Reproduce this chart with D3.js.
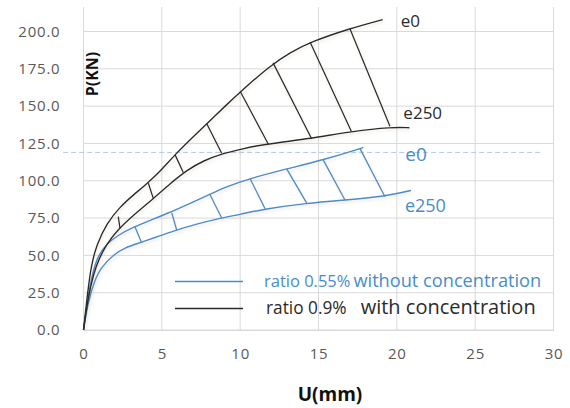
<!DOCTYPE html>
<html>
<head>
<meta charset="utf-8">
<script src="https://cdn.jsdelivr.net/npm/d3@7"></script>
<style>
  body { margin: 0; background: #fff; }
  svg { display: block; }
</style>
</head>
<body>
<div id="chart"></div>
<script>
// Data: [U (mm), P (kN)]
var black_e0 = [[0, 0], [0.25, 24], [0.5, 44], [0.84, 57], [1.48, 71.5], [2.33, 82.5], [3.18, 90.5], [4.14, 98.8], [5.0, 107.5], [5.84, 117.5], [7.0, 129.5], [8.0, 139.5], [9.14, 151], [10.0, 159.5], [11.9, 177], [13.2, 186], [14.5, 193], [17.0, 202], [19.1, 208]];
var black_e250 = [[0, 0], [0.3, 22], [0.65, 38], [1.0, 48], [1.45, 57], [2.12, 66.5], [3.18, 77], [4.46, 88], [5.52, 98], [6.59, 107], [7.65, 113.5], [8.93, 118.4], [10.0, 121], [11.3, 124], [14.6, 128.5], [17.1, 133], [19.7, 136], [20.8, 135.5]];
var blue_e0 = [[0, 0], [0.3, 23], [0.6, 39], [0.93, 50], [1.5, 58], [2.2, 63.5], [3.2, 69], [4.3, 73.7], [5.4, 78.3], [6.7, 84.4], [8.0, 90.5], [9.0, 95.5], [10.6, 101.5], [13.0, 108], [15.3, 114], [17.65, 121.5], [17.86, 122.4]];
var blue_e250 = [[0, 0], [0.3, 19], [0.7, 33], [1.14, 42.5], [1.99, 51], [2.6, 55], [3.6, 58.5], [4.7, 62.5], [5.8, 66.5], [7.2, 71], [8.8, 75], [10.0, 77.5], [11.5, 81], [14.25, 85], [16.7, 87.1], [19.1, 89.3], [20.9, 93.5]];

// hatch strokes between e0 and e250: [U top, P top, U bottom, P bottom]
var black_hatch = [[2.22, 76, 2.33, 68], [4.14, 98.3, 4.46, 88], [5.84, 117.5, 6.37, 105.5], [7.86, 138.4, 8.82, 118.4], [10.0, 160, 11.8, 124.5], [12.1, 179, 14.57, 128], [14.46, 193, 17.1, 133], [17.0, 202, 19.56, 136.5]];
var blue_hatch = [[3.29, 69, 3.71, 58.5], [5.63, 78.5, 5.95, 67], [8.07, 90.8, 8.82, 75], [10.63, 101.5, 11.59, 81.2], [12.97, 108, 14.25, 85], [15.3, 114, 16.69, 87.1], [17.65, 121.5, 19.24, 89.3]];

var refLevel = 119;          // dashed blue reference line
var refRange = [-1.3, 29.3];

var xTicks = [0, 5, 10, 15, 20, 25, 30];
var yTicks = [0, 25, 50, 75, 100, 125, 150, 175, 200];
var curveLabels = ["e0", "e250", "e0", "e250"];
var legendRatios = ["ratio 0.55%", "ratio 0.9%"];
var legendNotes = ["without concentration", "with concentration"];

var W = 570, H = 408;
var BLACK = "#2b2b2b", BLUE = "#4a8cc8";

var x = d3.scaleLinear().domain([0, 30]).range([83.5, 553.5]);
var y = d3.scaleLinear().domain([0, 200]).range([330, 31.5]);
var plotTop = 7;

var svg = d3.select("#chart").append("svg")
  .attr("width", W)
  .attr("height", H)
  .style("font-family", "'Open Sans', sans-serif");

// soft glow like the excel shadow
var defs = svg.append("defs");
var f = defs.append("filter").attr("id", "glow").attr("x", "-10%").attr("y", "-10%").attr("width", "120%").attr("height", "120%");
f.append("feDropShadow").attr("dx", 1).attr("dy", 2).attr("stdDeviation", 1.5)
  .attr("flood-color", "#c8b49a").attr("flood-opacity", 0.35);

// grid
svg.append("g")
  .selectAll("line.h")
  .data(yTicks)
  .enter().append("line")
  .attr("x1", x(0)).attr("x2", x(30))
  .attr("y1", function(d) { return y(d); })
  .attr("y2", function(d) { return y(d); })
  .attr("stroke", "#d9d9d9").attr("stroke-width", 1);

svg.append("g")
  .selectAll("line.v")
  .data(xTicks)
  .enter().append("line")
  .attr("x1", function(d) { return x(d); })
  .attr("x2", function(d) { return x(d); })
  .attr("y1", plotTop).attr("y2", y(0))
  .attr("stroke", "#d9d9d9").attr("stroke-width", 1);

// axes (labels only, excel style)
var xAxis = d3.axisBottom(x).tickValues(xTicks).tickSize(0).tickPadding(18).tickFormat(d3.format("d"));
var yAxis = d3.axisLeft(y).tickValues(yTicks).tickSize(0).tickPadding(23).tickFormat(d3.format(".1f"));

svg.append("g")
  .attr("transform", "translate(0," + y(0) + ")")
  .call(xAxis)
  .call(function(g) { g.select(".domain").attr("stroke", "#d9d9d9"); });

svg.append("g")
  .attr("transform", "translate(" + x(0) + ",0)")
  .call(yAxis)
  .call(function(g) { g.select(".domain").remove(); });

svg.selectAll(".tick text")
  .attr("fill", "#595959")
  .style("font-size", "15px")
  .style("font-family", "'Open Sans', sans-serif")
  .style("letter-spacing", "0.8px");

// dashed reference line
svg.append("line")
  .attr("x1", x(refRange[0])).attr("x2", x(refRange[1]))
  .attr("y1", y(refLevel)).attr("y2", y(refLevel))
  .attr("stroke", "#a9c9ea").attr("stroke-width", 1)
  .attr("stroke-dasharray", "5,3");

var line = d3.line()
  .x(function(d) { return x(d[0]); })
  .y(function(d) { return y(d[1]); })
  .curve(d3.curveBasis);

var series = [
  { data: blue_e250, color: BLUE, hatch: null },
  { data: blue_e0, color: BLUE, hatch: blue_hatch },
  { data: black_e250, color: BLACK, hatch: null },
  { data: black_e0, color: BLACK, hatch: black_hatch }
];

var curves = svg.append("g").attr("filter", "url(#glow)");

series.forEach(function(s) {
  curves.append("path")
    .datum(s.data)
    .attr("fill", "none")
    .attr("stroke", s.color)
    .attr("stroke-width", 1.4)
    .attr("d", line);
  if (s.hatch) {
    curves.selectAll(null)
      .data(s.hatch)
      .enter().append("line")
      .attr("x1", function(d) { return x(d[0]); })
      .attr("y1", function(d) { return y(d[1]); })
      .attr("x2", function(d) { return x(d[2]); })
      .attr("y2", function(d) { return y(d[3]); })
      .attr("stroke", s.color)
      .attr("stroke-width", 1.3);
  }
});

// end labels
var labelEnds = [black_e0, black_e250, blue_e0, blue_e250];
var labelLayout = [
  { dx: 18, dy: 7, color: BLACK, size: 17 },
  { dx: -6, dy: -9, color: BLACK, size: 17 },
  { dx: 42, dy: 14, color: BLUE, size: 19 },
  { dx: -6, dy: 22, color: BLUE, size: 18 }
];
svg.append("g")
  .selectAll("text")
  .data(curveLabels)
  .enter().append("text")
  .attr("x", function(d, i) { var e = labelEnds[i][labelEnds[i].length - 1]; return x(e[0]) + labelLayout[i].dx; })
  .attr("y", function(d, i) { var e = labelEnds[i][labelEnds[i].length - 1]; return y(e[1]) + labelLayout[i].dy; })
  .attr("fill", function(d, i) { return labelLayout[i].color; })
  .style("font-size", function(d, i) { return labelLayout[i].size + "px"; })
  .text(function(d) { return d; });

// legend
var legendColors = [BLUE, BLACK];
var legendY = [281.5, 308.5];
var ratioSize = ["16.5px", "17.3px"];
var noteSize = ["18.2px", "20px"];
var noteGap = [3, 14];
var lg = svg.append("g");
legendRatios.forEach(function(r, i) {
  lg.append("line")
    .attr("x1", 175).attr("x2", 243)
    .attr("y1", legendY[i]).attr("y2", legendY[i])
    .attr("stroke", legendColors[i]).attr("stroke-width", i === 0 ? 1.4 : 1.6);
  var t = lg.append("text")
    .attr("x", i === 0 ? 264 : 266)
    .attr("y", legendY[i] + 5.5)
    .attr("fill", legendColors[i]);
  t.append("tspan").style("font-size", ratioSize[i]).text(r);
  t.append("tspan").attr("dx", noteGap[i]).style("font-size", noteSize[i]).text(legendNotes[i]);
});

// axis titles
svg.append("text")
  .attr("transform", "translate(98,74) rotate(-90)")
  .attr("text-anchor", "middle")
  .attr("fill", "#111")
  .style("font-size", "16px")
  .style("font-weight", "bold")
  .text("P(KN)");

svg.append("text")
  .attr("x", 330)
  .attr("y", 401)
  .attr("text-anchor", "middle")
  .attr("fill", "#111")
  .style("font-size", "19px")
  .style("font-weight", "bold")
  .text("U(mm)");
</script>
</body>
</html>
